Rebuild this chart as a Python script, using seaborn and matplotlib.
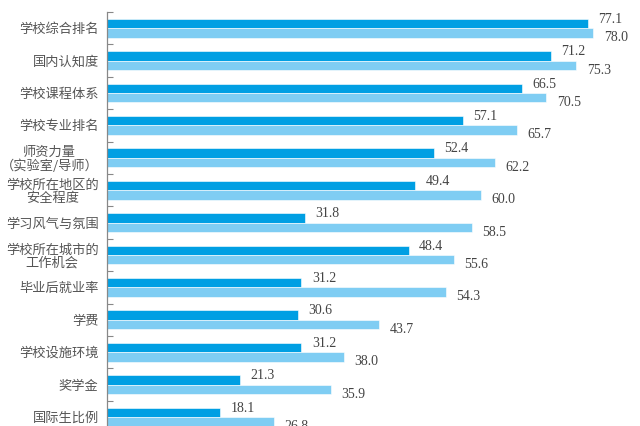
import matplotlib
matplotlib.use('Agg')
import matplotlib.pyplot as plt
import seaborn as sns
import pandas as pd
import numpy as np

sns.set_style('white')
plt.rcParams['font.family'] = ['Noto Sans CJK SC', 'DejaVu Sans']

# 数据
categories = ['学校综合排名', '国内认知度', '学校课程体系', '学校专业排名',
              '师资力量\n（实验室/导师）', '学校所在地区的\n安全程度',
              '学习风气与氛围', '学校所在城市的\n工作机会', '毕业后就业率',
              '学费', '学校设施环境', '奖学金', '国际生比例']
series_names = ['系列一', '系列二']
values_a = [77.1, 71.2, 66.5, 57.1, 52.4, 49.4, 31.8, 48.4, 31.2, 30.6, 31.2, 21.3, 18.1]
values_b = [78.0, 75.3, 70.5, 65.7, 62.2, 60.0, 58.5, 55.6, 54.3, 43.7, 38.0, 35.9, 26.8]

df = pd.DataFrame({
    'item': categories * 2,
    'value': values_a + values_b,
    'series': [series_names[0]] * len(categories) + [series_names[1]] * len(categories),
})

fig = plt.figure(figsize=(6.4, 4.26), dpi=100)
ax = fig.add_axes([107 / 640, 0, 1 - 107 / 640, 1 - 12 / 426])

sns.barplot(data=df, y='item', x='value', hue='series', orient='h',
            palette=['#009fe3', '#7fcdf3'], width=0.58, saturation=1,
            edgecolor='white', linewidth=0.4, legend=False, ax=ax)

ax.set_xlim(0, 85.5)
ax.set_ylim(12.28, -0.5)
ax.set_xlabel('')
ax.set_ylabel('')
ax.set_xticks([])

# 数值标签
for k, cont in enumerate(ax.containers):
    dy = 3 if k == 0 else -3.5
    for p in cont:
        w = p.get_width()
        yc = p.get_y() + p.get_height() / 2
        ax.annotate(f'{w:.1f}', (w, yc), xytext=(7.5, dy), textcoords='offset points',
                    ha='left', va='center', fontsize=10, color='#444444',
                    family='Liberation Serif', annotation_clip=False)

# 分隔刻度
ax.set_yticks(np.arange(-0.5, len(categories) - 0.5, 1), minor=True)
ax.tick_params(axis='y', which='minor', direction='in', length=4, width=0.8,
               color='#888888', left=True)
ax.tick_params(axis='y', which='major', length=0, pad=6)
for lab in ax.get_yticklabels():
    lab.set_fontsize(9.5)
    lab.set_color('#555555')
    lab.set_multialignment('center')
    lab.set_linespacing(1.05)

sns.despine(ax=ax, top=True, right=True, bottom=True)
ax.spines['left'].set_color('#888888')
ax.spines['left'].set_linewidth(0.9)

fig.savefig('out.png', dpi=100)
